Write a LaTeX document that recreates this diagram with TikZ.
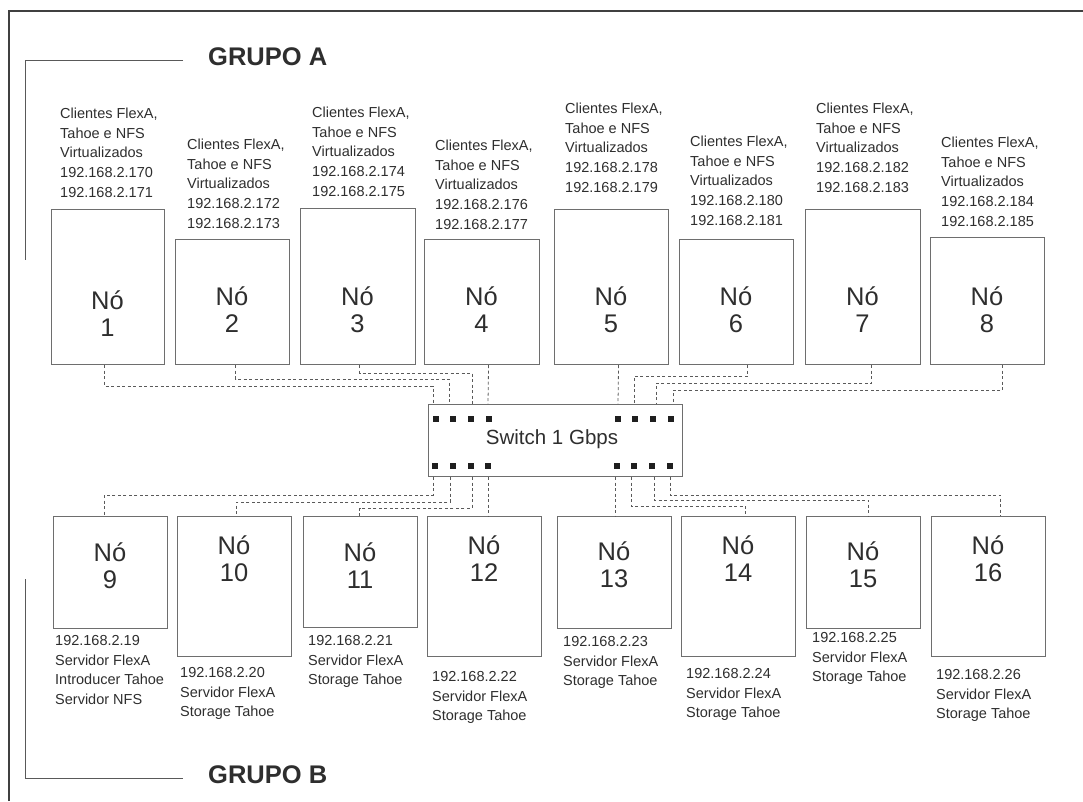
\documentclass[tikz,border=0pt]{standalone}
\usepackage{fontspec}
\setmainfont{Liberation Sans}
\usetikzlibrary{calc}
\definecolor{boxgray}{HTML}{6E6E6E}
\definecolor{txtgray}{HTML}{2E2E2E}
\definecolor{dashgray}{HTML}{5A5A5A}
\begin{document}
\begin{tikzpicture}[x=1pt,y=-1pt,
  nodebox/.style={draw=boxgray, line width=1.1pt, inner sep=0pt, anchor=north west, fill=white},
  nolabel/.style={text=txtgray, align=center, anchor=base, inner sep=0pt, font=\fontsize{25.5}{27}\selectfont},
  info/.style={text=txtgray, align=left, anchor=base west, inner sep=0pt, font=\fontsize{14.5}{19.7}\selectfont},
  grp/.style={text=txtgray, anchor=base west, inner sep=0pt, font=\fontsize{25.5}{28}\selectfont\bfseries},
  port/.style={fill=black!88, draw=none, minimum size=6pt, inner sep=0pt},
  conn/.style={draw=dashgray, line width=0.8pt, dash pattern=on 3pt off 2.5pt},
  frame/.style={draw=black!75, line width=1.1pt},
  bracket/.style={draw=black!65, line width=0.9pt}
]
\useasboundingbox (0,0) rectangle (1083,801);
% outer frame
\draw[frame] (9,801) -- (9,11) -- (1083,11);
% group brackets
\draw[bracket] (183,60) -- (25,60) -- (25,260);
\draw[bracket] (25,579) -- (25,778) -- (183,778);
\node[grp] (ga) at (208,65) {GRUPO A};
\node[grp] (gb) at (208,783) {GRUPO B};

% top row boxes
\node[nodebox, minimum width=113pt, minimum height=155pt] (n1) at (51,209) {};
\node[nodebox, minimum width=114pt, minimum height=125pt] (n2) at (175,239) {};
\node[nodebox, minimum width=115pt, minimum height=156pt] (n3) at (300,208) {};
\node[nodebox, minimum width=115pt, minimum height=125pt] (n4) at (424,239) {};
\node[nodebox, minimum width=114pt, minimum height=155pt] (n5) at (554,209) {};
\node[nodebox, minimum width=114pt, minimum height=125pt] (n6) at (679,239) {};
\node[nodebox, minimum width=115pt, minimum height=155pt] (n7) at (805,209) {};
\node[nodebox, minimum width=114pt, minimum height=127pt] (n8) at (930,237) {};

\node[nolabel] (t1) at (107.5,336) {Nó\\1};
\node[nolabel] (t2) at (232,332) {Nó\\2};
\node[nolabel] (t3) at (357.5,332) {Nó\\3};
\node[nolabel] (t4) at (481.5,332) {Nó\\4};
\node[nolabel] (t5) at (611,332) {Nó\\5};
\node[nolabel] (t6) at (736,332) {Nó\\6};
\node[nolabel] (t7) at (862.5,332) {Nó\\7};
\node[nolabel] (t8) at (987,332) {Nó\\8};

\node[info] (i1) at (60,197.3) {Clientes FlexA,\\Tahoe e NFS\\Virtualizados\\192.168.2.170\\192.168.2.171};
\node[info] (i2) at (187,228.3) {Clientes FlexA,\\Tahoe e NFS\\Virtualizados\\192.168.2.172\\192.168.2.173};
\node[info] (i3) at (312,196.3) {Clientes FlexA,\\Tahoe e NFS\\Virtualizados\\192.168.2.174\\192.168.2.175};
\node[info] (i4) at (435,229.3) {Clientes FlexA,\\Tahoe e NFS\\Virtualizados\\192.168.2.176\\192.168.2.177};
\node[info] (i5) at (565,192.3) {Clientes FlexA,\\Tahoe e NFS\\Virtualizados\\192.168.2.178\\192.168.2.179};
\node[info] (i6) at (690,225.3) {Clientes FlexA,\\Tahoe e NFS\\Virtualizados\\192.168.2.180\\192.168.2.181};
\node[info] (i7) at (816,192.3) {Clientes FlexA,\\Tahoe e NFS\\Virtualizados\\192.168.2.182\\192.168.2.183};
\node[info] (i8) at (941,226.3) {Clientes FlexA,\\Tahoe e NFS\\Virtualizados\\192.168.2.184\\192.168.2.185};

% bottom row boxes
\node[nodebox, minimum width=114pt, minimum height=112pt] (n9) at (53,516) {};
\node[nodebox, minimum width=114pt, minimum height=140pt] (n10) at (177,516) {};
\node[nodebox, minimum width=114pt, minimum height=111pt] (n11) at (303,516) {};
\node[nodebox, minimum width=114pt, minimum height=140pt] (n12) at (427,516) {};
\node[nodebox, minimum width=114pt, minimum height=112pt] (n13) at (557,516) {};
\node[nodebox, minimum width=114pt, minimum height=140pt] (n14) at (681,516) {};
\node[nodebox, minimum width=114pt, minimum height=112pt] (n15) at (806,516) {};
\node[nodebox, minimum width=114pt, minimum height=140pt] (n16) at (931,516) {};

\node[nolabel] (t9) at (110,588) {Nó\\9};
\node[nolabel] (t10) at (234,581) {Nó\\10};
\node[nolabel] (t11) at (360,588) {Nó\\11};
\node[nolabel] (t12) at (484,581) {Nó\\12};
\node[nolabel] (t13) at (614,587) {Nó\\13};
\node[nolabel] (t14) at (738,581) {Nó\\14};
\node[nolabel] (t15) at (863,587) {Nó\\15};
\node[nolabel] (t16) at (988,581) {Nó\\16};

\node[info] (i9) at (55,704.6) {192.168.2.19\\Servidor FlexA\\Introducer Tahoe\\Servidor NFS};
\node[info] (i10) at (180,716.9) {192.168.2.20\\Servidor FlexA\\Storage Tahoe};
\node[info] (i11) at (308,684.9) {192.168.2.21\\Servidor FlexA\\Storage Tahoe};
\node[info] (i12) at (432,720.9) {192.168.2.22\\Servidor FlexA\\Storage Tahoe};
\node[info] (i13) at (563,685.9) {192.168.2.23\\Servidor FlexA\\Storage Tahoe};
\node[info] (i14) at (686,717.9) {192.168.2.24\\Servidor FlexA\\Storage Tahoe};
\node[info] (i15) at (812,681.9) {192.168.2.25\\Servidor FlexA\\Storage Tahoe};
\node[info] (i16) at (936,718.9) {192.168.2.26\\Servidor FlexA\\Storage Tahoe};

% switch
\node[nodebox, minimum width=254pt, minimum height=72pt] (sw) at (428,404) {};
\node[text=txtgray, inner sep=0pt, font=\fontsize{20.5}{24}\selectfont] (swl) at (552,439) {Switch 1 Gbps};
\foreach \i/\x in {1/436,2/453,3/471,4/489,5/618,6/635,7/653,8/671}
  \node[port] (pt\i) at (\x,419) {};
\foreach \i/\x in {1/435,2/453,3/471,4/488,5/617,6/634,7/652,8/670}
  \node[port] (pb\i) at (\x,466) {};

% top connectors
\draw[conn] ([xshift=-3.5pt]n1.south) -- ++(0,21) -| ($(pt1 |- sw.north)+(-3,0)$);
\draw[conn] ([xshift=3pt]n2.south) -- ++(0,14) -| ($(pt2 |- sw.north)+(-4,0)$);
\draw[conn] ([xshift=1.5pt]n3.south) -- ++(0,8) -| ($(pt3 |- sw.north)+(1,0)$);
\draw[conn] ([xshift=6.5pt]n4.south) -- ($(pt4 |- sw.north)+(-1,0)$);
\draw[conn] ([xshift=7pt]n5.south) -- (pt5 |- sw.north);
\draw[conn] ([xshift=11pt]n6.south) -- ++(0,11) -| ($(pt6 |- sw.north)+(-1,0)$);
\draw[conn] ([xshift=8.5pt]n7.south) -- ++(0,18) -| ($(pt7 |- sw.north)+(3,0)$);
\draw[conn] ([xshift=15pt]n8.south) -- ++(0,25) -| ($(pt8 |- sw.north)+(2,0)$);

% bottom connectors
\draw[conn] ($(pb1 |- sw.south)+(-2,0)$) |- ($(n9.north)+(-6,-21)$) -- ([xshift=-6pt]n9.north);
\draw[conn] ($(pb2 |- sw.south)+(-3,0)$) |- ($(n10.north)+(2,-14)$) -- ([xshift=2pt]n10.north);
\draw[conn] ($(pb3 |- sw.south)+(1,0)$) |- ($(n11.north)+(-1,-8)$) -- ([xshift=-1pt]n11.north);
\draw[conn] (pb4 |- sw.south) -- (pb4 |- n12.north);
\draw[conn] ($(pb5 |- sw.south)+(-2,0)$) -- ($(pb5 |- n13.north)+(-2,0)$);
\draw[conn] ($(pb6 |- sw.south)+(-3,0)$) |- ($(n14.north)+(7,-10)$) -- ([xshift=7pt]n14.north);
\draw[conn] ($(pb7 |- sw.south)+(2,0)$) |- ($(n15.north)+(5,-16)$) -- ([xshift=5pt]n15.north);
\draw[conn] (pb8 |- sw.south) |- ($(n16.north)+(12,-21)$) -- ([xshift=12pt]n16.north);
\end{tikzpicture}
\end{document}
